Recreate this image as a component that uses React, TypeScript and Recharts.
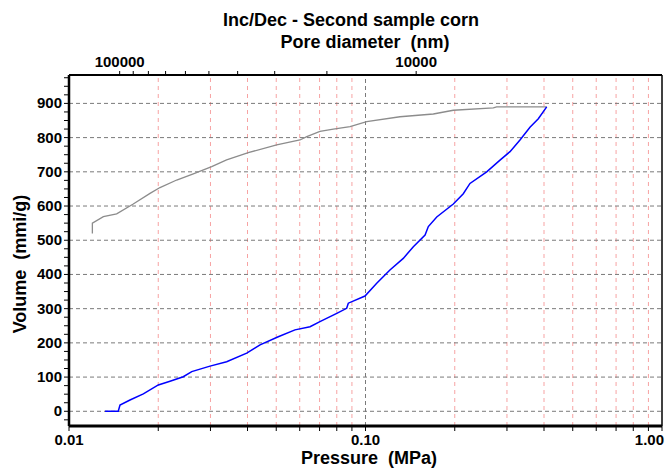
import React from "react";
import { LineChart, Line, XAxis, YAxis, ReferenceLine } from "recharts";

const chartTitle = "Inc/Dec - Second sample corn";
const topAxisTitle = "Pore diameter  (nm)";
const xAxisTitle = "Pressure  (MPa)";
const yAxisTitle = "Volume  (mmi/g)";

// intrusion curve (blue): pressure in MPa, cumulative volume
const intrusionPressure = [
  0.01323, 0.01466, 0.01486, 0.01606, 0.01781, 0.02001, 0.02191, 0.02429, 0.02594,
  0.02989, 0.03402, 0.03975, 0.04409, 0.05079, 0.05783, 0.065, 0.0702, 0.08, 0.0864,
  0.0875, 0.0996, 0.1091, 0.1209, 0.1341, 0.145, 0.1588, 0.1629, 0.1739, 0.1978,
  0.2137, 0.2251, 0.2563, 0.2842, 0.3072, 0.3319, 0.3587, 0.3827, 0.4084,
];
const intrusionVolume = [
  0, 0, 18, 33, 51, 77, 88, 101, 116,
  132, 145, 170, 194, 218, 238, 247, 262, 286, 301,
  316, 337, 374, 413, 447, 481, 515, 540, 568, 606,
  636, 666, 700, 734, 759, 793, 830, 855, 890,
];

// extrusion curve (grey), read from high pressure back down
const extrusionPressure = [
  0.4084, 0.2769, 0.2698, 0.1978, 0.1693, 0.1307, 0.1009, 0.0887, 0.0779, 0.0702,
  0.0634, 0.0601, 0.05017, 0.04024, 0.034, 0.03029, 0.02626, 0.02308, 0.02027,
  0.01876, 0.01647, 0.01448, 0.01306, 0.01199, 0.01199,
];
const extrusionVolume = [
  890, 890, 887, 880, 869, 861, 847, 832, 825, 818,
  803, 793, 779, 756, 735, 715, 694, 676, 654,
  637, 606, 577, 569, 550, 520,
];

const pressureTicks = [
  0.01, 0.02, 0.03, 0.04, 0.05, 0.06, 0.07, 0.08, 0.09,
  0.1, 0.2, 0.3, 0.4, 0.5, 0.6, 0.7, 0.8, 0.9, 1,
];
const pressureLabels = ["0.01", "0.10", "1.00"];
const volumeLabels = [0, 100, 200, 300, 400, 500, 600, 700, 800, 900];
const volumeMinorStep = 25;
const volumeDomain = [-43, 983];
const poreDiameterTicks = [100000, 90000, 80000, 70000, 60000, 50000, 40000, 30000, 20000, 10000];
const poreDiameterLabels = [100000, 10000];
const washburnConstant = 1482; // nm * MPa

const intrusionData = intrusionPressure.map((p, i) => ({ p, v: intrusionVolume[i] }));
const extrusionData = extrusionPressure.map((p, i) => ({ p, v: extrusionVolume[i] }));

const volumeTicks: number[] = [];
for (let v = -25; v <= 975; v += volumeMinorStep) volumeTicks.push(v);

const isDecade = (v: number) => Math.abs(Math.log10(v) - Math.round(Math.log10(v))) < 1e-6;
const topTicks = poreDiameterTicks.map((d) => washburnConstant / d);

const font = "'Liberation Sans', Arial, sans-serif";

const BottomTick = (props: any) => {
  const { x, y, payload } = props;
  if (!isDecade(payload.value)) return null;
  const label = pressureLabels.find((l) => Math.abs(parseFloat(l) - payload.value) < 1e-9) || "";
  const last = payload.value >= 1;
  return (
    <text x={last ? x + 2 : x} y={y} dy={12} textAnchor={last ? "end" : "middle"}
      fontFamily={font} fontWeight="bold" fontSize={15} fill="#000">
      {label}
    </text>
  );
};

const TopTick = (props: any) => {
  const { x, y, payload } = props;
  const d = Math.round(washburnConstant / payload.value);
  if (!poreDiameterLabels.includes(d)) return null;
  return (
    <text x={x} y={y} dy={-2} textAnchor="middle" fontFamily={font} fontWeight="bold" fontSize={15} fill="#000">
      {d}
    </text>
  );
};

const LeftTick = (props: any) => {
  const { x, y, payload } = props;
  if (!volumeLabels.includes(payload.value)) return null;
  return (
    <text x={x} y={y} dy={5} textAnchor="end" fontFamily={font} fontWeight="bold" fontSize={15} fill="#000">
      {payload.value}
    </text>
  );
};

export default function App() {
  return (
    <div style={{ position: "absolute", left: 0, top: 0, width: 668, height: 468, background: "#fff" }}>
      <LineChart width={668} height={468} margin={{ top: 45, right: 6, bottom: 12, left: 0 }}>
        <XAxis xAxisId="bottom" dataKey="p" type="number" scale="log" domain={[0.01, 1]}
          allowDataOverflow ticks={pressureTicks} interval={0} height={30}
          axisLine={{ stroke: "#000", strokeWidth: 3 }} tickLine={{ stroke: "#000" }}
          tickSize={5} tick={<BottomTick />} />
        <XAxis xAxisId="top" orientation="top" dataKey="p" type="number" scale="log" domain={[0.01, 1]}
          allowDataOverflow ticks={topTicks} interval={0} height={30}
          axisLine={{ stroke: "#000", strokeWidth: 2 }} tickLine={{ stroke: "#000" }}
          tickSize={4} tick={<TopTick />} />
        <YAxis dataKey="v" type="number" domain={volumeDomain} allowDataOverflow
          ticks={volumeTicks} interval={0} width={69}
          axisLine={{ stroke: "#000", strokeWidth: 2.5 }} tickLine={{ stroke: "#000" }}
          tickSize={5} tick={<LeftTick />} />
        {pressureTicks.filter((v) => !isDecade(v)).map((v) => (
          <ReferenceLine key={"m" + v} xAxisId="bottom" x={v} stroke="#f7a3a3" strokeDasharray="4 4" />
        ))}
        <ReferenceLine xAxisId="bottom" x={0.1} stroke="#7a7a7a" strokeDasharray="4 3" />
        {volumeLabels.map((v) => (
          <ReferenceLine key={"h" + v} xAxisId="bottom" y={v} stroke="#7a7a7a" strokeDasharray="4 3" />
        ))}
        <ReferenceLine xAxisId="bottom" x={1} stroke="#000" strokeWidth={1.5} />
        <Line xAxisId="bottom" data={extrusionData} dataKey="v" type="linear" stroke="#8c8c8c"
          strokeWidth={1.3} dot={false} isAnimationActive={false} />
        <Line xAxisId="bottom" data={intrusionData} dataKey="v" type="linear" stroke="#0000ff"
          strokeWidth={1.5} dot={false} isAnimationActive={false} />
      </LineChart>
      <svg width={668} height={468} style={{ position: "absolute", left: 0, top: 0, pointerEvents: "none" }}>
        <g fontFamily={font} fontWeight="bold" fontSize={18} fill="#000" textAnchor="middle">
          <text x={351} y={26} xmlSpace="preserve">{chartTitle}</text>
          <text x={365} y={48} xmlSpace="preserve">{topAxisTitle}</text>
          <text x={369} y={464} xmlSpace="preserve">{xAxisTitle}</text>
          <text x={26} y={264} transform="rotate(-90 26 264)" xmlSpace="preserve">{yAxisTitle}</text>
        </g>
      </svg>
    </div>
  );
}
